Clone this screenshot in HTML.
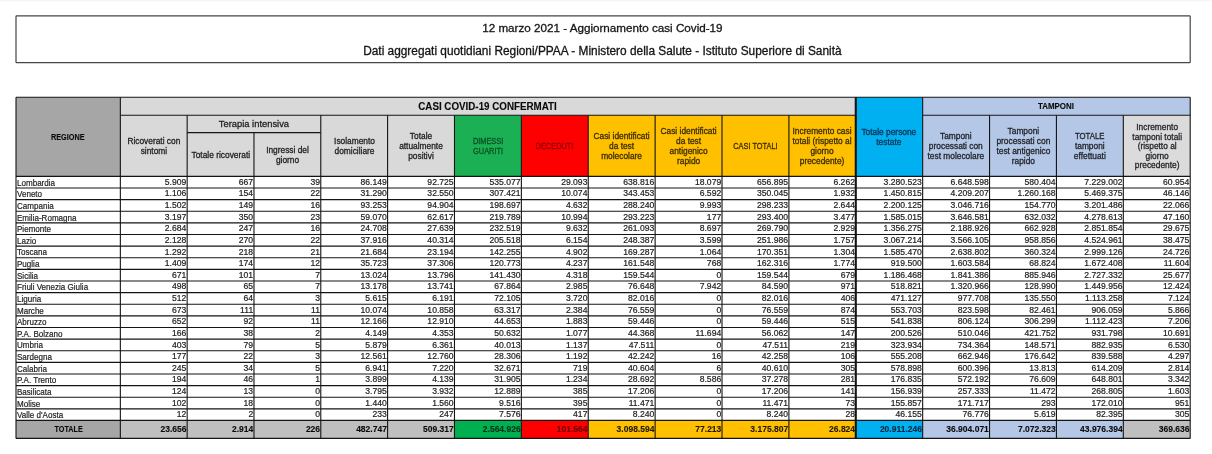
<!DOCTYPE html>
<html lang="it">
<head>
<meta charset="utf-8">
<title>12 marzo 2021 - Aggiornamento casi Covid-19</title>
<style>
html,body{margin:0;padding:0;background:#fff;}
body{width:1212px;height:454px;overflow:hidden;font-family:"Liberation Sans",sans-serif;}
#page{position:relative;width:1212px;height:454px;overflow:hidden;background:#fff;}
#grid{position:absolute;left:0;top:0;}
#text{position:absolute;left:0;top:0;width:1212px;height:454px;will-change:transform;}
.title{position:absolute;left:15.4px;width:1174px;text-align:center;font-size:11.75px;line-height:14px;color:#141414;white-space:nowrap;-webkit-text-stroke:0.3px currentColor;}
.c{position:absolute;box-sizing:border-box;display:flex;white-space:nowrap;color:#1c1c1c;font-size:8.6px;line-height:9.8px;-webkit-text-stroke:0.2px currentColor;}
.c span{display:block;}
.c span i{display:inline-block;font-style:normal;transform:scaleX(.93);}
.h{align-items:center;justify-content:center;text-align:center;color:#1e1e1e;font-size:8.8px;padding-top:2.5px;-webkit-text-stroke:0.3px currentColor;}
.h span{transform:scaleX(.95);transform-origin:50% 50%;}
.u span{transform:scaleX(.84);}
.l5{line-height:9.5px;}
.b{font-weight:bold;color:#0a0a0a;-webkit-text-stroke:0.12px currentColor;}
.reg{font-size:8.6px;}
.reg span{transform:scaleX(.85);}
.grp{font-size:10.4px;padding-top:1.4px;padding-right:2px;}
.grp span{transform:scaleX(.942);}
.tmp{font-size:8.8px;padding-top:1.4px;}
.tmp span{transform:scaleX(.9);}
.ti{font-size:9.85px;padding-top:0.9px;}
.tg{color:#08501f;}
.tr{color:#8f0000;}
.to{color:#3b2c00;}
.tb{color:#0a3355;align-items:flex-start;padding-top:30px;line-height:10.2px;}
.tt{color:#1f2126;}
.d{align-items:flex-end;padding-bottom:0;}
.d span{position:relative;top:-0.3px;}
.l{justify-content:flex-start;padding-left:1.3px;font-size:8.8px;}
.l span{transform:scaleX(.915);transform-origin:0 50%;top:0.6px;}
.r{justify-content:flex-end;padding-right:0.8px;}
.t{align-items:center;font-size:8.5px;padding-top:1px;}
.tc{justify-content:center;font-size:8.5px;}
.tc span{transform:scaleX(.85);}
.tn{justify-content:flex-end;padding-right:0.7px;}
.ttg{color:#04331a;}
.ttr{color:#690000;}
.tto{color:#221900;}
.ttb{color:#062840;}

</style>
</head>
<body>
<div id="page">
<svg id="grid" width="1212" height="454" viewBox="0 0 1212 454">
<rect x="0" y="0" width="1212" height="1" fill="#f6f6f6"/>
<rect x="0" y="1" width="1212" height="1" fill="#fbfbfb"/>
<rect x="16" y="15.95" width="1174.2" height="46.7" rx="0.7" ry="0.7" fill="#ffffff" stroke="#454545" stroke-width="1.2"/>
<rect x="16" y="97.2" width="104.35" height="79.15" fill="#a6a6a6"/>
<rect x="120.35" y="97.2" width="735.43" height="18" fill="#d9d9d9"/>
<rect x="120.35" y="115.2" width="334.12" height="61.15" fill="#d9d9d9"/>
<rect x="454.47" y="115.2" width="66.88" height="61.15" fill="#1cb054"/>
<rect x="521.36" y="115.2" width="66.88" height="61.15" fill="#ff0000"/>
<rect x="588.24" y="115.2" width="267.54" height="61.15" fill="#ffc000"/>
<rect x="855.78" y="97.2" width="66.88" height="79.15" fill="#00b0f0"/>
<rect x="922.66" y="97.2" width="267.54" height="18" fill="#b4c7e7"/>
<rect x="922.66" y="115.2" width="200.65" height="61.15" fill="#b4c7e7"/>
<rect x="1123.32" y="115.2" width="66.88" height="61.15" fill="#dbdbdb"/>
<rect x="16" y="420.45" width="104.35" height="17.95" fill="#a6a6a6"/>
<rect x="120.35" y="420.45" width="334.12" height="17.95" fill="#bfbfbf"/>
<rect x="454.47" y="420.45" width="66.88" height="17.95" fill="#00b050"/>
<rect x="521.36" y="420.45" width="66.88" height="17.95" fill="#ff0000"/>
<rect x="588.24" y="420.45" width="267.54" height="17.95" fill="#ffc000"/>
<rect x="855.78" y="420.45" width="66.88" height="17.95" fill="#00b0f0"/>
<rect x="922.66" y="420.45" width="200.65" height="17.95" fill="#b4c7e7"/>
<rect x="1123.32" y="420.45" width="66.88" height="17.95" fill="#bfbfbf"/>
<line x1="16" y1="97.2" x2="1190.2" y2="97.2" stroke="#141414" stroke-width="1.1"/>
<line x1="120.35" y1="115.2" x2="855.78" y2="115.2" stroke="#141414" stroke-width="1.1"/>
<line x1="922.66" y1="115.2" x2="1190.2" y2="115.2" stroke="#141414" stroke-width="1.1"/>
<line x1="187.16" y1="132.6" x2="320.78" y2="132.6" stroke="#141414" stroke-width="1.1"/>
<line x1="16" y1="176.35" x2="1190.2" y2="176.35" stroke="#141414" stroke-width="1.1"/>
<line x1="16" y1="187.97" x2="1190.2" y2="187.97" stroke="#141414" stroke-width="1.1"/>
<line x1="16" y1="199.6" x2="1190.2" y2="199.6" stroke="#141414" stroke-width="1.1"/>
<line x1="16" y1="211.22" x2="1190.2" y2="211.22" stroke="#141414" stroke-width="1.1"/>
<line x1="16" y1="222.85" x2="1190.2" y2="222.85" stroke="#141414" stroke-width="1.1"/>
<line x1="16" y1="234.47" x2="1190.2" y2="234.47" stroke="#141414" stroke-width="1.1"/>
<line x1="16" y1="246.09" x2="1190.2" y2="246.09" stroke="#141414" stroke-width="1.1"/>
<line x1="16" y1="257.72" x2="1190.2" y2="257.72" stroke="#141414" stroke-width="1.1"/>
<line x1="16" y1="269.34" x2="1190.2" y2="269.34" stroke="#141414" stroke-width="1.1"/>
<line x1="16" y1="280.96" x2="1190.2" y2="280.96" stroke="#141414" stroke-width="1.1"/>
<line x1="16" y1="292.59" x2="1190.2" y2="292.59" stroke="#141414" stroke-width="1.1"/>
<line x1="16" y1="304.21" x2="1190.2" y2="304.21" stroke="#141414" stroke-width="1.1"/>
<line x1="16" y1="315.84" x2="1190.2" y2="315.84" stroke="#141414" stroke-width="1.1"/>
<line x1="16" y1="327.46" x2="1190.2" y2="327.46" stroke="#141414" stroke-width="1.1"/>
<line x1="16" y1="339.08" x2="1190.2" y2="339.08" stroke="#141414" stroke-width="1.1"/>
<line x1="16" y1="350.71" x2="1190.2" y2="350.71" stroke="#141414" stroke-width="1.1"/>
<line x1="16" y1="362.33" x2="1190.2" y2="362.33" stroke="#141414" stroke-width="1.1"/>
<line x1="16" y1="373.95" x2="1190.2" y2="373.95" stroke="#141414" stroke-width="1.1"/>
<line x1="16" y1="385.58" x2="1190.2" y2="385.58" stroke="#141414" stroke-width="1.1"/>
<line x1="16" y1="397.2" x2="1190.2" y2="397.2" stroke="#141414" stroke-width="1.1"/>
<line x1="16" y1="408.83" x2="1190.2" y2="408.83" stroke="#141414" stroke-width="1.1"/>
<line x1="16" y1="420.45" x2="1190.2" y2="420.45" stroke="#141414" stroke-width="1.25"/>
<line x1="16" y1="438.4" x2="1190.2" y2="438.4" stroke="#141414" stroke-width="1.25"/>
<line x1="16" y1="97.2" x2="16" y2="438.4" stroke="#141414" stroke-width="1.1"/>
<line x1="120.35" y1="97.2" x2="120.35" y2="438.4" stroke="#141414" stroke-width="1.1"/>
<line x1="187.16" y1="115.2" x2="187.16" y2="438.4" stroke="#141414" stroke-width="1.1"/>
<line x1="253.97" y1="132.6" x2="253.97" y2="438.4" stroke="#141414" stroke-width="1.1"/>
<line x1="320.78" y1="115.2" x2="320.78" y2="438.4" stroke="#141414" stroke-width="1.1"/>
<line x1="387.59" y1="115.2" x2="387.59" y2="438.4" stroke="#141414" stroke-width="1.1"/>
<line x1="454.47" y1="115.2" x2="454.47" y2="438.4" stroke="#141414" stroke-width="1.1"/>
<line x1="521.36" y1="115.2" x2="521.36" y2="438.4" stroke="#141414" stroke-width="1.1"/>
<line x1="588.24" y1="115.2" x2="588.24" y2="438.4" stroke="#141414" stroke-width="1.1"/>
<line x1="655.13" y1="115.2" x2="655.13" y2="438.4" stroke="#141414" stroke-width="1.1"/>
<line x1="722.01" y1="115.2" x2="722.01" y2="438.4" stroke="#141414" stroke-width="1.1"/>
<line x1="788.9" y1="115.2" x2="788.9" y2="438.4" stroke="#141414" stroke-width="1.1"/>
<line x1="855.78" y1="97.2" x2="855.78" y2="438.4" stroke="#141414" stroke-width="2.1"/>
<line x1="922.66" y1="97.2" x2="922.66" y2="438.4" stroke="#141414" stroke-width="1.1"/>
<line x1="989.55" y1="115.2" x2="989.55" y2="438.4" stroke="#141414" stroke-width="1.1"/>
<line x1="1056.43" y1="115.2" x2="1056.43" y2="438.4" stroke="#141414" stroke-width="1.1"/>
<line x1="1123.32" y1="115.2" x2="1123.32" y2="438.4" stroke="#141414" stroke-width="1.1"/>
<line x1="1190.2" y1="97.2" x2="1190.2" y2="438.4" stroke="#141414" stroke-width="1.1"/>
</svg>
<div id="text">
<div class="title" style="top:21.4px;font-size:11.66px">12 marzo 2021 - Aggiornamento casi Covid-19</div>
<div class="title" style="top:43.9px;font-size:11.86px">Dati aggregati quotidiani Regioni/PPAA - Ministero della Salute - Istituto Superiore di Sanit&agrave;</div>
<div class="c h b reg" style="left:16px;top:97.2px;width:104.35px;height:79.15px;"><span>REGIONE</span></div>
<div class="c h b grp" style="left:120.35px;top:97.2px;width:735.43px;height:18px;"><span>CASI COVID-19 CONFERMATI</span></div>
<div class="c h b tmp" style="left:922.66px;top:97.2px;width:267.54px;height:18px;"><span>TAMPONI</span></div>
<div class="c h ti" style="left:187.16px;top:115.2px;width:133.62px;height:17.4px;"><span>Terapia intensiva</span></div>
<div class="c h" style="left:120.35px;top:115.2px;width:66.81px;height:61.15px;"><span>Ricoverati con<br>sintomi</span></div>
<div class="c h" style="left:187.16px;top:132.6px;width:66.81px;height:43.75px;"><span>Totale ricoverati</span></div>
<div class="c h" style="left:253.97px;top:132.6px;width:66.81px;height:43.75px;"><span>Ingressi del<br>giorno</span></div>
<div class="c h" style="left:320.78px;top:115.2px;width:66.81px;height:61.15px;"><span>Isolamento<br>domiciliare</span></div>
<div class="c h" style="left:387.59px;top:115.2px;width:66.88px;height:61.15px;"><span>Totale<br>attualmente<br>positivi</span></div>
<div class="c h tg u" style="left:454.47px;top:115.2px;width:66.88px;height:61.15px;"><span>DIMESSI<br>GUARITI</span></div>
<div class="c h tr u" style="left:521.36px;top:115.2px;width:66.88px;height:61.15px;"><span>DECEDUTI</span></div>
<div class="c h to" style="left:588.24px;top:115.2px;width:66.88px;height:61.15px;"><span>Casi identificati<br>da test<br>molecolare</span></div>
<div class="c h to" style="left:655.13px;top:115.2px;width:66.88px;height:61.15px;"><span>Casi identificati<br>da test<br>antigenico<br>rapido</span></div>
<div class="c h to u" style="left:722.01px;top:115.2px;width:66.88px;height:61.15px;"><span>CASI TOTALI</span></div>
<div class="c h to" style="left:788.9px;top:115.2px;width:66.88px;height:61.15px;"><span>Incremento casi<br>totali (rispetto al<br>giorno<br>precedente)</span></div>
<div class="c h tb" style="left:855.78px;top:97.2px;width:66.88px;height:79.15px;"><span>Totale persone<br>testate</span></div>
<div class="c h tt" style="left:922.66px;top:115.2px;width:66.88px;height:61.15px;"><span>Tamponi<br>processati con<br>test molecolare</span></div>
<div class="c h tt" style="left:989.55px;top:115.2px;width:66.88px;height:61.15px;"><span>Tamponi<br>processati con<br>test antigenico<br>rapido</span></div>
<div class="c h tt" style="left:1056.43px;top:115.2px;width:66.88px;height:61.15px;"><span><i>TOTALE</i><br>tamponi<br>effettuati</span></div>
<div class="c h tt l5" style="left:1123.32px;top:115.2px;width:66.88px;height:61.15px;"><span>Incremento<br>tamponi totali<br>(rispetto al<br>giorno<br>precedente)</span></div>
<div class="c d l" style="left:16px;top:176.35px;width:104.35px;height:11.62px;"><span>Lombardia</span></div>
<div class="c d r" style="left:120.35px;top:176.35px;width:66.81px;height:11.62px;"><span>5.909</span></div>
<div class="c d r" style="left:187.16px;top:176.35px;width:66.81px;height:11.62px;"><span>667</span></div>
<div class="c d r" style="left:253.97px;top:176.35px;width:66.81px;height:11.62px;"><span>39</span></div>
<div class="c d r" style="left:320.78px;top:176.35px;width:66.81px;height:11.62px;"><span>86.149</span></div>
<div class="c d r" style="left:387.59px;top:176.35px;width:66.88px;height:11.62px;"><span>92.725</span></div>
<div class="c d r" style="left:454.47px;top:176.35px;width:66.88px;height:11.62px;"><span>535.077</span></div>
<div class="c d r" style="left:521.36px;top:176.35px;width:66.88px;height:11.62px;"><span>29.093</span></div>
<div class="c d r" style="left:588.24px;top:176.35px;width:66.88px;height:11.62px;"><span>638.816</span></div>
<div class="c d r" style="left:655.13px;top:176.35px;width:66.88px;height:11.62px;"><span>18.079</span></div>
<div class="c d r" style="left:722.01px;top:176.35px;width:66.88px;height:11.62px;"><span>656.895</span></div>
<div class="c d r" style="left:788.9px;top:176.35px;width:66.88px;height:11.62px;"><span>6.262</span></div>
<div class="c d r" style="left:855.78px;top:176.35px;width:66.88px;height:11.62px;"><span>3.280.523</span></div>
<div class="c d r" style="left:922.66px;top:176.35px;width:66.88px;height:11.62px;"><span>6.648.598</span></div>
<div class="c d r" style="left:989.55px;top:176.35px;width:66.88px;height:11.62px;"><span>580.404</span></div>
<div class="c d r" style="left:1056.43px;top:176.35px;width:66.88px;height:11.62px;"><span>7.229.002</span></div>
<div class="c d r" style="left:1123.32px;top:176.35px;width:66.88px;height:11.62px;"><span>60.954</span></div>
<div class="c d l" style="left:16px;top:187.97px;width:104.35px;height:11.62px;"><span>Veneto</span></div>
<div class="c d r" style="left:120.35px;top:187.97px;width:66.81px;height:11.62px;"><span>1.106</span></div>
<div class="c d r" style="left:187.16px;top:187.97px;width:66.81px;height:11.62px;"><span>154</span></div>
<div class="c d r" style="left:253.97px;top:187.97px;width:66.81px;height:11.62px;"><span>22</span></div>
<div class="c d r" style="left:320.78px;top:187.97px;width:66.81px;height:11.62px;"><span>31.290</span></div>
<div class="c d r" style="left:387.59px;top:187.97px;width:66.88px;height:11.62px;"><span>32.550</span></div>
<div class="c d r" style="left:454.47px;top:187.97px;width:66.88px;height:11.62px;"><span>307.421</span></div>
<div class="c d r" style="left:521.36px;top:187.97px;width:66.88px;height:11.62px;"><span>10.074</span></div>
<div class="c d r" style="left:588.24px;top:187.97px;width:66.88px;height:11.62px;"><span>343.453</span></div>
<div class="c d r" style="left:655.13px;top:187.97px;width:66.88px;height:11.62px;"><span>6.592</span></div>
<div class="c d r" style="left:722.01px;top:187.97px;width:66.88px;height:11.62px;"><span>350.045</span></div>
<div class="c d r" style="left:788.9px;top:187.97px;width:66.88px;height:11.62px;"><span>1.932</span></div>
<div class="c d r" style="left:855.78px;top:187.97px;width:66.88px;height:11.62px;"><span>1.450.815</span></div>
<div class="c d r" style="left:922.66px;top:187.97px;width:66.88px;height:11.62px;"><span>4.209.207</span></div>
<div class="c d r" style="left:989.55px;top:187.97px;width:66.88px;height:11.62px;"><span>1.260.168</span></div>
<div class="c d r" style="left:1056.43px;top:187.97px;width:66.88px;height:11.62px;"><span>5.469.375</span></div>
<div class="c d r" style="left:1123.32px;top:187.97px;width:66.88px;height:11.62px;"><span>46.146</span></div>
<div class="c d l" style="left:16px;top:199.6px;width:104.35px;height:11.62px;"><span>Campania</span></div>
<div class="c d r" style="left:120.35px;top:199.6px;width:66.81px;height:11.62px;"><span>1.502</span></div>
<div class="c d r" style="left:187.16px;top:199.6px;width:66.81px;height:11.62px;"><span>149</span></div>
<div class="c d r" style="left:253.97px;top:199.6px;width:66.81px;height:11.62px;"><span>16</span></div>
<div class="c d r" style="left:320.78px;top:199.6px;width:66.81px;height:11.62px;"><span>93.253</span></div>
<div class="c d r" style="left:387.59px;top:199.6px;width:66.88px;height:11.62px;"><span>94.904</span></div>
<div class="c d r" style="left:454.47px;top:199.6px;width:66.88px;height:11.62px;"><span>198.697</span></div>
<div class="c d r" style="left:521.36px;top:199.6px;width:66.88px;height:11.62px;"><span>4.632</span></div>
<div class="c d r" style="left:588.24px;top:199.6px;width:66.88px;height:11.62px;"><span>288.240</span></div>
<div class="c d r" style="left:655.13px;top:199.6px;width:66.88px;height:11.62px;"><span>9.993</span></div>
<div class="c d r" style="left:722.01px;top:199.6px;width:66.88px;height:11.62px;"><span>298.233</span></div>
<div class="c d r" style="left:788.9px;top:199.6px;width:66.88px;height:11.62px;"><span>2.644</span></div>
<div class="c d r" style="left:855.78px;top:199.6px;width:66.88px;height:11.62px;"><span>2.200.125</span></div>
<div class="c d r" style="left:922.66px;top:199.6px;width:66.88px;height:11.62px;"><span>3.046.716</span></div>
<div class="c d r" style="left:989.55px;top:199.6px;width:66.88px;height:11.62px;"><span>154.770</span></div>
<div class="c d r" style="left:1056.43px;top:199.6px;width:66.88px;height:11.62px;"><span>3.201.486</span></div>
<div class="c d r" style="left:1123.32px;top:199.6px;width:66.88px;height:11.62px;"><span>22.066</span></div>
<div class="c d l" style="left:16px;top:211.22px;width:104.35px;height:11.62px;"><span>Emilia-Romagna</span></div>
<div class="c d r" style="left:120.35px;top:211.22px;width:66.81px;height:11.62px;"><span>3.197</span></div>
<div class="c d r" style="left:187.16px;top:211.22px;width:66.81px;height:11.62px;"><span>350</span></div>
<div class="c d r" style="left:253.97px;top:211.22px;width:66.81px;height:11.62px;"><span>23</span></div>
<div class="c d r" style="left:320.78px;top:211.22px;width:66.81px;height:11.62px;"><span>59.070</span></div>
<div class="c d r" style="left:387.59px;top:211.22px;width:66.88px;height:11.62px;"><span>62.617</span></div>
<div class="c d r" style="left:454.47px;top:211.22px;width:66.88px;height:11.62px;"><span>219.789</span></div>
<div class="c d r" style="left:521.36px;top:211.22px;width:66.88px;height:11.62px;"><span>10.994</span></div>
<div class="c d r" style="left:588.24px;top:211.22px;width:66.88px;height:11.62px;"><span>293.223</span></div>
<div class="c d r" style="left:655.13px;top:211.22px;width:66.88px;height:11.62px;"><span>177</span></div>
<div class="c d r" style="left:722.01px;top:211.22px;width:66.88px;height:11.62px;"><span>293.400</span></div>
<div class="c d r" style="left:788.9px;top:211.22px;width:66.88px;height:11.62px;"><span>3.477</span></div>
<div class="c d r" style="left:855.78px;top:211.22px;width:66.88px;height:11.62px;"><span>1.585.015</span></div>
<div class="c d r" style="left:922.66px;top:211.22px;width:66.88px;height:11.62px;"><span>3.646.581</span></div>
<div class="c d r" style="left:989.55px;top:211.22px;width:66.88px;height:11.62px;"><span>632.032</span></div>
<div class="c d r" style="left:1056.43px;top:211.22px;width:66.88px;height:11.62px;"><span>4.278.613</span></div>
<div class="c d r" style="left:1123.32px;top:211.22px;width:66.88px;height:11.62px;"><span>47.160</span></div>
<div class="c d l" style="left:16px;top:222.85px;width:104.35px;height:11.62px;"><span>Piemonte</span></div>
<div class="c d r" style="left:120.35px;top:222.85px;width:66.81px;height:11.62px;"><span>2.684</span></div>
<div class="c d r" style="left:187.16px;top:222.85px;width:66.81px;height:11.62px;"><span>247</span></div>
<div class="c d r" style="left:253.97px;top:222.85px;width:66.81px;height:11.62px;"><span>16</span></div>
<div class="c d r" style="left:320.78px;top:222.85px;width:66.81px;height:11.62px;"><span>24.708</span></div>
<div class="c d r" style="left:387.59px;top:222.85px;width:66.88px;height:11.62px;"><span>27.639</span></div>
<div class="c d r" style="left:454.47px;top:222.85px;width:66.88px;height:11.62px;"><span>232.519</span></div>
<div class="c d r" style="left:521.36px;top:222.85px;width:66.88px;height:11.62px;"><span>9.632</span></div>
<div class="c d r" style="left:588.24px;top:222.85px;width:66.88px;height:11.62px;"><span>261.093</span></div>
<div class="c d r" style="left:655.13px;top:222.85px;width:66.88px;height:11.62px;"><span>8.697</span></div>
<div class="c d r" style="left:722.01px;top:222.85px;width:66.88px;height:11.62px;"><span>269.790</span></div>
<div class="c d r" style="left:788.9px;top:222.85px;width:66.88px;height:11.62px;"><span>2.929</span></div>
<div class="c d r" style="left:855.78px;top:222.85px;width:66.88px;height:11.62px;"><span>1.356.275</span></div>
<div class="c d r" style="left:922.66px;top:222.85px;width:66.88px;height:11.62px;"><span>2.188.926</span></div>
<div class="c d r" style="left:989.55px;top:222.85px;width:66.88px;height:11.62px;"><span>662.928</span></div>
<div class="c d r" style="left:1056.43px;top:222.85px;width:66.88px;height:11.62px;"><span>2.851.854</span></div>
<div class="c d r" style="left:1123.32px;top:222.85px;width:66.88px;height:11.62px;"><span>29.675</span></div>
<div class="c d l" style="left:16px;top:234.47px;width:104.35px;height:11.62px;"><span>Lazio</span></div>
<div class="c d r" style="left:120.35px;top:234.47px;width:66.81px;height:11.62px;"><span>2.128</span></div>
<div class="c d r" style="left:187.16px;top:234.47px;width:66.81px;height:11.62px;"><span>270</span></div>
<div class="c d r" style="left:253.97px;top:234.47px;width:66.81px;height:11.62px;"><span>22</span></div>
<div class="c d r" style="left:320.78px;top:234.47px;width:66.81px;height:11.62px;"><span>37.916</span></div>
<div class="c d r" style="left:387.59px;top:234.47px;width:66.88px;height:11.62px;"><span>40.314</span></div>
<div class="c d r" style="left:454.47px;top:234.47px;width:66.88px;height:11.62px;"><span>205.518</span></div>
<div class="c d r" style="left:521.36px;top:234.47px;width:66.88px;height:11.62px;"><span>6.154</span></div>
<div class="c d r" style="left:588.24px;top:234.47px;width:66.88px;height:11.62px;"><span>248.387</span></div>
<div class="c d r" style="left:655.13px;top:234.47px;width:66.88px;height:11.62px;"><span>3.599</span></div>
<div class="c d r" style="left:722.01px;top:234.47px;width:66.88px;height:11.62px;"><span>251.986</span></div>
<div class="c d r" style="left:788.9px;top:234.47px;width:66.88px;height:11.62px;"><span>1.757</span></div>
<div class="c d r" style="left:855.78px;top:234.47px;width:66.88px;height:11.62px;"><span>3.067.214</span></div>
<div class="c d r" style="left:922.66px;top:234.47px;width:66.88px;height:11.62px;"><span>3.566.105</span></div>
<div class="c d r" style="left:989.55px;top:234.47px;width:66.88px;height:11.62px;"><span>958.856</span></div>
<div class="c d r" style="left:1056.43px;top:234.47px;width:66.88px;height:11.62px;"><span>4.524.961</span></div>
<div class="c d r" style="left:1123.32px;top:234.47px;width:66.88px;height:11.62px;"><span>38.475</span></div>
<div class="c d l" style="left:16px;top:246.09px;width:104.35px;height:11.62px;"><span>Toscana</span></div>
<div class="c d r" style="left:120.35px;top:246.09px;width:66.81px;height:11.62px;"><span>1.292</span></div>
<div class="c d r" style="left:187.16px;top:246.09px;width:66.81px;height:11.62px;"><span>218</span></div>
<div class="c d r" style="left:253.97px;top:246.09px;width:66.81px;height:11.62px;"><span>21</span></div>
<div class="c d r" style="left:320.78px;top:246.09px;width:66.81px;height:11.62px;"><span>21.684</span></div>
<div class="c d r" style="left:387.59px;top:246.09px;width:66.88px;height:11.62px;"><span>23.194</span></div>
<div class="c d r" style="left:454.47px;top:246.09px;width:66.88px;height:11.62px;"><span>142.255</span></div>
<div class="c d r" style="left:521.36px;top:246.09px;width:66.88px;height:11.62px;"><span>4.902</span></div>
<div class="c d r" style="left:588.24px;top:246.09px;width:66.88px;height:11.62px;"><span>169.287</span></div>
<div class="c d r" style="left:655.13px;top:246.09px;width:66.88px;height:11.62px;"><span>1.064</span></div>
<div class="c d r" style="left:722.01px;top:246.09px;width:66.88px;height:11.62px;"><span>170.351</span></div>
<div class="c d r" style="left:788.9px;top:246.09px;width:66.88px;height:11.62px;"><span>1.304</span></div>
<div class="c d r" style="left:855.78px;top:246.09px;width:66.88px;height:11.62px;"><span>1.585.470</span></div>
<div class="c d r" style="left:922.66px;top:246.09px;width:66.88px;height:11.62px;"><span>2.638.802</span></div>
<div class="c d r" style="left:989.55px;top:246.09px;width:66.88px;height:11.62px;"><span>360.324</span></div>
<div class="c d r" style="left:1056.43px;top:246.09px;width:66.88px;height:11.62px;"><span>2.999.126</span></div>
<div class="c d r" style="left:1123.32px;top:246.09px;width:66.88px;height:11.62px;"><span>24.726</span></div>
<div class="c d l" style="left:16px;top:257.72px;width:104.35px;height:11.62px;"><span>Puglia</span></div>
<div class="c d r" style="left:120.35px;top:257.72px;width:66.81px;height:11.62px;"><span>1.409</span></div>
<div class="c d r" style="left:187.16px;top:257.72px;width:66.81px;height:11.62px;"><span>174</span></div>
<div class="c d r" style="left:253.97px;top:257.72px;width:66.81px;height:11.62px;"><span>12</span></div>
<div class="c d r" style="left:320.78px;top:257.72px;width:66.81px;height:11.62px;"><span>35.723</span></div>
<div class="c d r" style="left:387.59px;top:257.72px;width:66.88px;height:11.62px;"><span>37.306</span></div>
<div class="c d r" style="left:454.47px;top:257.72px;width:66.88px;height:11.62px;"><span>120.773</span></div>
<div class="c d r" style="left:521.36px;top:257.72px;width:66.88px;height:11.62px;"><span>4.237</span></div>
<div class="c d r" style="left:588.24px;top:257.72px;width:66.88px;height:11.62px;"><span>161.548</span></div>
<div class="c d r" style="left:655.13px;top:257.72px;width:66.88px;height:11.62px;"><span>768</span></div>
<div class="c d r" style="left:722.01px;top:257.72px;width:66.88px;height:11.62px;"><span>162.316</span></div>
<div class="c d r" style="left:788.9px;top:257.72px;width:66.88px;height:11.62px;"><span>1.774</span></div>
<div class="c d r" style="left:855.78px;top:257.72px;width:66.88px;height:11.62px;"><span>919.500</span></div>
<div class="c d r" style="left:922.66px;top:257.72px;width:66.88px;height:11.62px;"><span>1.603.584</span></div>
<div class="c d r" style="left:989.55px;top:257.72px;width:66.88px;height:11.62px;"><span>68.824</span></div>
<div class="c d r" style="left:1056.43px;top:257.72px;width:66.88px;height:11.62px;"><span>1.672.408</span></div>
<div class="c d r" style="left:1123.32px;top:257.72px;width:66.88px;height:11.62px;"><span>11.604</span></div>
<div class="c d l" style="left:16px;top:269.34px;width:104.35px;height:11.62px;"><span>Sicilia</span></div>
<div class="c d r" style="left:120.35px;top:269.34px;width:66.81px;height:11.62px;"><span>671</span></div>
<div class="c d r" style="left:187.16px;top:269.34px;width:66.81px;height:11.62px;"><span>101</span></div>
<div class="c d r" style="left:253.97px;top:269.34px;width:66.81px;height:11.62px;"><span>7</span></div>
<div class="c d r" style="left:320.78px;top:269.34px;width:66.81px;height:11.62px;"><span>13.024</span></div>
<div class="c d r" style="left:387.59px;top:269.34px;width:66.88px;height:11.62px;"><span>13.796</span></div>
<div class="c d r" style="left:454.47px;top:269.34px;width:66.88px;height:11.62px;"><span>141.430</span></div>
<div class="c d r" style="left:521.36px;top:269.34px;width:66.88px;height:11.62px;"><span>4.318</span></div>
<div class="c d r" style="left:588.24px;top:269.34px;width:66.88px;height:11.62px;"><span>159.544</span></div>
<div class="c d r" style="left:655.13px;top:269.34px;width:66.88px;height:11.62px;"><span>0</span></div>
<div class="c d r" style="left:722.01px;top:269.34px;width:66.88px;height:11.62px;"><span>159.544</span></div>
<div class="c d r" style="left:788.9px;top:269.34px;width:66.88px;height:11.62px;"><span>679</span></div>
<div class="c d r" style="left:855.78px;top:269.34px;width:66.88px;height:11.62px;"><span>1.186.468</span></div>
<div class="c d r" style="left:922.66px;top:269.34px;width:66.88px;height:11.62px;"><span>1.841.386</span></div>
<div class="c d r" style="left:989.55px;top:269.34px;width:66.88px;height:11.62px;"><span>885.946</span></div>
<div class="c d r" style="left:1056.43px;top:269.34px;width:66.88px;height:11.62px;"><span>2.727.332</span></div>
<div class="c d r" style="left:1123.32px;top:269.34px;width:66.88px;height:11.62px;"><span>25.677</span></div>
<div class="c d l" style="left:16px;top:280.96px;width:104.35px;height:11.62px;"><span>Friuli Venezia Giulia</span></div>
<div class="c d r" style="left:120.35px;top:280.96px;width:66.81px;height:11.62px;"><span>498</span></div>
<div class="c d r" style="left:187.16px;top:280.96px;width:66.81px;height:11.62px;"><span>65</span></div>
<div class="c d r" style="left:253.97px;top:280.96px;width:66.81px;height:11.62px;"><span>7</span></div>
<div class="c d r" style="left:320.78px;top:280.96px;width:66.81px;height:11.62px;"><span>13.178</span></div>
<div class="c d r" style="left:387.59px;top:280.96px;width:66.88px;height:11.62px;"><span>13.741</span></div>
<div class="c d r" style="left:454.47px;top:280.96px;width:66.88px;height:11.62px;"><span>67.864</span></div>
<div class="c d r" style="left:521.36px;top:280.96px;width:66.88px;height:11.62px;"><span>2.985</span></div>
<div class="c d r" style="left:588.24px;top:280.96px;width:66.88px;height:11.62px;"><span>76.648</span></div>
<div class="c d r" style="left:655.13px;top:280.96px;width:66.88px;height:11.62px;"><span>7.942</span></div>
<div class="c d r" style="left:722.01px;top:280.96px;width:66.88px;height:11.62px;"><span>84.590</span></div>
<div class="c d r" style="left:788.9px;top:280.96px;width:66.88px;height:11.62px;"><span>971</span></div>
<div class="c d r" style="left:855.78px;top:280.96px;width:66.88px;height:11.62px;"><span>518.821</span></div>
<div class="c d r" style="left:922.66px;top:280.96px;width:66.88px;height:11.62px;"><span>1.320.966</span></div>
<div class="c d r" style="left:989.55px;top:280.96px;width:66.88px;height:11.62px;"><span>128.990</span></div>
<div class="c d r" style="left:1056.43px;top:280.96px;width:66.88px;height:11.62px;"><span>1.449.956</span></div>
<div class="c d r" style="left:1123.32px;top:280.96px;width:66.88px;height:11.62px;"><span>12.424</span></div>
<div class="c d l" style="left:16px;top:292.59px;width:104.35px;height:11.62px;"><span>Liguria</span></div>
<div class="c d r" style="left:120.35px;top:292.59px;width:66.81px;height:11.62px;"><span>512</span></div>
<div class="c d r" style="left:187.16px;top:292.59px;width:66.81px;height:11.62px;"><span>64</span></div>
<div class="c d r" style="left:253.97px;top:292.59px;width:66.81px;height:11.62px;"><span>3</span></div>
<div class="c d r" style="left:320.78px;top:292.59px;width:66.81px;height:11.62px;"><span>5.615</span></div>
<div class="c d r" style="left:387.59px;top:292.59px;width:66.88px;height:11.62px;"><span>6.191</span></div>
<div class="c d r" style="left:454.47px;top:292.59px;width:66.88px;height:11.62px;"><span>72.105</span></div>
<div class="c d r" style="left:521.36px;top:292.59px;width:66.88px;height:11.62px;"><span>3.720</span></div>
<div class="c d r" style="left:588.24px;top:292.59px;width:66.88px;height:11.62px;"><span>82.016</span></div>
<div class="c d r" style="left:655.13px;top:292.59px;width:66.88px;height:11.62px;"><span>0</span></div>
<div class="c d r" style="left:722.01px;top:292.59px;width:66.88px;height:11.62px;"><span>82.016</span></div>
<div class="c d r" style="left:788.9px;top:292.59px;width:66.88px;height:11.62px;"><span>406</span></div>
<div class="c d r" style="left:855.78px;top:292.59px;width:66.88px;height:11.62px;"><span>471.127</span></div>
<div class="c d r" style="left:922.66px;top:292.59px;width:66.88px;height:11.62px;"><span>977.708</span></div>
<div class="c d r" style="left:989.55px;top:292.59px;width:66.88px;height:11.62px;"><span>135.550</span></div>
<div class="c d r" style="left:1056.43px;top:292.59px;width:66.88px;height:11.62px;"><span>1.113.258</span></div>
<div class="c d r" style="left:1123.32px;top:292.59px;width:66.88px;height:11.62px;"><span>7.124</span></div>
<div class="c d l" style="left:16px;top:304.21px;width:104.35px;height:11.62px;"><span>Marche</span></div>
<div class="c d r" style="left:120.35px;top:304.21px;width:66.81px;height:11.62px;"><span>673</span></div>
<div class="c d r" style="left:187.16px;top:304.21px;width:66.81px;height:11.62px;"><span>111</span></div>
<div class="c d r" style="left:253.97px;top:304.21px;width:66.81px;height:11.62px;"><span>11</span></div>
<div class="c d r" style="left:320.78px;top:304.21px;width:66.81px;height:11.62px;"><span>10.074</span></div>
<div class="c d r" style="left:387.59px;top:304.21px;width:66.88px;height:11.62px;"><span>10.858</span></div>
<div class="c d r" style="left:454.47px;top:304.21px;width:66.88px;height:11.62px;"><span>63.317</span></div>
<div class="c d r" style="left:521.36px;top:304.21px;width:66.88px;height:11.62px;"><span>2.384</span></div>
<div class="c d r" style="left:588.24px;top:304.21px;width:66.88px;height:11.62px;"><span>76.559</span></div>
<div class="c d r" style="left:655.13px;top:304.21px;width:66.88px;height:11.62px;"><span>0</span></div>
<div class="c d r" style="left:722.01px;top:304.21px;width:66.88px;height:11.62px;"><span>76.559</span></div>
<div class="c d r" style="left:788.9px;top:304.21px;width:66.88px;height:11.62px;"><span>874</span></div>
<div class="c d r" style="left:855.78px;top:304.21px;width:66.88px;height:11.62px;"><span>553.703</span></div>
<div class="c d r" style="left:922.66px;top:304.21px;width:66.88px;height:11.62px;"><span>823.598</span></div>
<div class="c d r" style="left:989.55px;top:304.21px;width:66.88px;height:11.62px;"><span>82.461</span></div>
<div class="c d r" style="left:1056.43px;top:304.21px;width:66.88px;height:11.62px;"><span>906.059</span></div>
<div class="c d r" style="left:1123.32px;top:304.21px;width:66.88px;height:11.62px;"><span>5.866</span></div>
<div class="c d l" style="left:16px;top:315.84px;width:104.35px;height:11.62px;"><span>Abruzzo</span></div>
<div class="c d r" style="left:120.35px;top:315.84px;width:66.81px;height:11.62px;"><span>652</span></div>
<div class="c d r" style="left:187.16px;top:315.84px;width:66.81px;height:11.62px;"><span>92</span></div>
<div class="c d r" style="left:253.97px;top:315.84px;width:66.81px;height:11.62px;"><span>11</span></div>
<div class="c d r" style="left:320.78px;top:315.84px;width:66.81px;height:11.62px;"><span>12.166</span></div>
<div class="c d r" style="left:387.59px;top:315.84px;width:66.88px;height:11.62px;"><span>12.910</span></div>
<div class="c d r" style="left:454.47px;top:315.84px;width:66.88px;height:11.62px;"><span>44.653</span></div>
<div class="c d r" style="left:521.36px;top:315.84px;width:66.88px;height:11.62px;"><span>1.883</span></div>
<div class="c d r" style="left:588.24px;top:315.84px;width:66.88px;height:11.62px;"><span>59.446</span></div>
<div class="c d r" style="left:655.13px;top:315.84px;width:66.88px;height:11.62px;"><span>0</span></div>
<div class="c d r" style="left:722.01px;top:315.84px;width:66.88px;height:11.62px;"><span>59.446</span></div>
<div class="c d r" style="left:788.9px;top:315.84px;width:66.88px;height:11.62px;"><span>515</span></div>
<div class="c d r" style="left:855.78px;top:315.84px;width:66.88px;height:11.62px;"><span>541.838</span></div>
<div class="c d r" style="left:922.66px;top:315.84px;width:66.88px;height:11.62px;"><span>806.124</span></div>
<div class="c d r" style="left:989.55px;top:315.84px;width:66.88px;height:11.62px;"><span>306.299</span></div>
<div class="c d r" style="left:1056.43px;top:315.84px;width:66.88px;height:11.62px;"><span>1.112.423</span></div>
<div class="c d r" style="left:1123.32px;top:315.84px;width:66.88px;height:11.62px;"><span>7.206</span></div>
<div class="c d l" style="left:16px;top:327.46px;width:104.35px;height:11.62px;"><span>P.A. Bolzano</span></div>
<div class="c d r" style="left:120.35px;top:327.46px;width:66.81px;height:11.62px;"><span>166</span></div>
<div class="c d r" style="left:187.16px;top:327.46px;width:66.81px;height:11.62px;"><span>38</span></div>
<div class="c d r" style="left:253.97px;top:327.46px;width:66.81px;height:11.62px;"><span>2</span></div>
<div class="c d r" style="left:320.78px;top:327.46px;width:66.81px;height:11.62px;"><span>4.149</span></div>
<div class="c d r" style="left:387.59px;top:327.46px;width:66.88px;height:11.62px;"><span>4.353</span></div>
<div class="c d r" style="left:454.47px;top:327.46px;width:66.88px;height:11.62px;"><span>50.632</span></div>
<div class="c d r" style="left:521.36px;top:327.46px;width:66.88px;height:11.62px;"><span>1.077</span></div>
<div class="c d r" style="left:588.24px;top:327.46px;width:66.88px;height:11.62px;"><span>44.368</span></div>
<div class="c d r" style="left:655.13px;top:327.46px;width:66.88px;height:11.62px;"><span>11.694</span></div>
<div class="c d r" style="left:722.01px;top:327.46px;width:66.88px;height:11.62px;"><span>56.062</span></div>
<div class="c d r" style="left:788.9px;top:327.46px;width:66.88px;height:11.62px;"><span>147</span></div>
<div class="c d r" style="left:855.78px;top:327.46px;width:66.88px;height:11.62px;"><span>200.526</span></div>
<div class="c d r" style="left:922.66px;top:327.46px;width:66.88px;height:11.62px;"><span>510.046</span></div>
<div class="c d r" style="left:989.55px;top:327.46px;width:66.88px;height:11.62px;"><span>421.752</span></div>
<div class="c d r" style="left:1056.43px;top:327.46px;width:66.88px;height:11.62px;"><span>931.798</span></div>
<div class="c d r" style="left:1123.32px;top:327.46px;width:66.88px;height:11.62px;"><span>10.691</span></div>
<div class="c d l" style="left:16px;top:339.08px;width:104.35px;height:11.62px;"><span>Umbria</span></div>
<div class="c d r" style="left:120.35px;top:339.08px;width:66.81px;height:11.62px;"><span>403</span></div>
<div class="c d r" style="left:187.16px;top:339.08px;width:66.81px;height:11.62px;"><span>79</span></div>
<div class="c d r" style="left:253.97px;top:339.08px;width:66.81px;height:11.62px;"><span>5</span></div>
<div class="c d r" style="left:320.78px;top:339.08px;width:66.81px;height:11.62px;"><span>5.879</span></div>
<div class="c d r" style="left:387.59px;top:339.08px;width:66.88px;height:11.62px;"><span>6.361</span></div>
<div class="c d r" style="left:454.47px;top:339.08px;width:66.88px;height:11.62px;"><span>40.013</span></div>
<div class="c d r" style="left:521.36px;top:339.08px;width:66.88px;height:11.62px;"><span>1.137</span></div>
<div class="c d r" style="left:588.24px;top:339.08px;width:66.88px;height:11.62px;"><span>47.511</span></div>
<div class="c d r" style="left:655.13px;top:339.08px;width:66.88px;height:11.62px;"><span>0</span></div>
<div class="c d r" style="left:722.01px;top:339.08px;width:66.88px;height:11.62px;"><span>47.511</span></div>
<div class="c d r" style="left:788.9px;top:339.08px;width:66.88px;height:11.62px;"><span>219</span></div>
<div class="c d r" style="left:855.78px;top:339.08px;width:66.88px;height:11.62px;"><span>323.934</span></div>
<div class="c d r" style="left:922.66px;top:339.08px;width:66.88px;height:11.62px;"><span>734.364</span></div>
<div class="c d r" style="left:989.55px;top:339.08px;width:66.88px;height:11.62px;"><span>148.571</span></div>
<div class="c d r" style="left:1056.43px;top:339.08px;width:66.88px;height:11.62px;"><span>882.935</span></div>
<div class="c d r" style="left:1123.32px;top:339.08px;width:66.88px;height:11.62px;"><span>6.530</span></div>
<div class="c d l" style="left:16px;top:350.71px;width:104.35px;height:11.62px;"><span>Sardegna</span></div>
<div class="c d r" style="left:120.35px;top:350.71px;width:66.81px;height:11.62px;"><span>177</span></div>
<div class="c d r" style="left:187.16px;top:350.71px;width:66.81px;height:11.62px;"><span>22</span></div>
<div class="c d r" style="left:253.97px;top:350.71px;width:66.81px;height:11.62px;"><span>3</span></div>
<div class="c d r" style="left:320.78px;top:350.71px;width:66.81px;height:11.62px;"><span>12.561</span></div>
<div class="c d r" style="left:387.59px;top:350.71px;width:66.88px;height:11.62px;"><span>12.760</span></div>
<div class="c d r" style="left:454.47px;top:350.71px;width:66.88px;height:11.62px;"><span>28.306</span></div>
<div class="c d r" style="left:521.36px;top:350.71px;width:66.88px;height:11.62px;"><span>1.192</span></div>
<div class="c d r" style="left:588.24px;top:350.71px;width:66.88px;height:11.62px;"><span>42.242</span></div>
<div class="c d r" style="left:655.13px;top:350.71px;width:66.88px;height:11.62px;"><span>16</span></div>
<div class="c d r" style="left:722.01px;top:350.71px;width:66.88px;height:11.62px;"><span>42.258</span></div>
<div class="c d r" style="left:788.9px;top:350.71px;width:66.88px;height:11.62px;"><span>106</span></div>
<div class="c d r" style="left:855.78px;top:350.71px;width:66.88px;height:11.62px;"><span>555.208</span></div>
<div class="c d r" style="left:922.66px;top:350.71px;width:66.88px;height:11.62px;"><span>662.946</span></div>
<div class="c d r" style="left:989.55px;top:350.71px;width:66.88px;height:11.62px;"><span>176.642</span></div>
<div class="c d r" style="left:1056.43px;top:350.71px;width:66.88px;height:11.62px;"><span>839.588</span></div>
<div class="c d r" style="left:1123.32px;top:350.71px;width:66.88px;height:11.62px;"><span>4.297</span></div>
<div class="c d l" style="left:16px;top:362.33px;width:104.35px;height:11.62px;"><span>Calabria</span></div>
<div class="c d r" style="left:120.35px;top:362.33px;width:66.81px;height:11.62px;"><span>245</span></div>
<div class="c d r" style="left:187.16px;top:362.33px;width:66.81px;height:11.62px;"><span>34</span></div>
<div class="c d r" style="left:253.97px;top:362.33px;width:66.81px;height:11.62px;"><span>5</span></div>
<div class="c d r" style="left:320.78px;top:362.33px;width:66.81px;height:11.62px;"><span>6.941</span></div>
<div class="c d r" style="left:387.59px;top:362.33px;width:66.88px;height:11.62px;"><span>7.220</span></div>
<div class="c d r" style="left:454.47px;top:362.33px;width:66.88px;height:11.62px;"><span>32.671</span></div>
<div class="c d r" style="left:521.36px;top:362.33px;width:66.88px;height:11.62px;"><span>719</span></div>
<div class="c d r" style="left:588.24px;top:362.33px;width:66.88px;height:11.62px;"><span>40.604</span></div>
<div class="c d r" style="left:655.13px;top:362.33px;width:66.88px;height:11.62px;"><span>6</span></div>
<div class="c d r" style="left:722.01px;top:362.33px;width:66.88px;height:11.62px;"><span>40.610</span></div>
<div class="c d r" style="left:788.9px;top:362.33px;width:66.88px;height:11.62px;"><span>305</span></div>
<div class="c d r" style="left:855.78px;top:362.33px;width:66.88px;height:11.62px;"><span>578.898</span></div>
<div class="c d r" style="left:922.66px;top:362.33px;width:66.88px;height:11.62px;"><span>600.396</span></div>
<div class="c d r" style="left:989.55px;top:362.33px;width:66.88px;height:11.62px;"><span>13.813</span></div>
<div class="c d r" style="left:1056.43px;top:362.33px;width:66.88px;height:11.62px;"><span>614.209</span></div>
<div class="c d r" style="left:1123.32px;top:362.33px;width:66.88px;height:11.62px;"><span>2.814</span></div>
<div class="c d l" style="left:16px;top:373.95px;width:104.35px;height:11.62px;"><span>P.A. Trento</span></div>
<div class="c d r" style="left:120.35px;top:373.95px;width:66.81px;height:11.62px;"><span>194</span></div>
<div class="c d r" style="left:187.16px;top:373.95px;width:66.81px;height:11.62px;"><span>46</span></div>
<div class="c d r" style="left:253.97px;top:373.95px;width:66.81px;height:11.62px;"><span>1</span></div>
<div class="c d r" style="left:320.78px;top:373.95px;width:66.81px;height:11.62px;"><span>3.899</span></div>
<div class="c d r" style="left:387.59px;top:373.95px;width:66.88px;height:11.62px;"><span>4.139</span></div>
<div class="c d r" style="left:454.47px;top:373.95px;width:66.88px;height:11.62px;"><span>31.905</span></div>
<div class="c d r" style="left:521.36px;top:373.95px;width:66.88px;height:11.62px;"><span>1.234</span></div>
<div class="c d r" style="left:588.24px;top:373.95px;width:66.88px;height:11.62px;"><span>28.692</span></div>
<div class="c d r" style="left:655.13px;top:373.95px;width:66.88px;height:11.62px;"><span>8.586</span></div>
<div class="c d r" style="left:722.01px;top:373.95px;width:66.88px;height:11.62px;"><span>37.278</span></div>
<div class="c d r" style="left:788.9px;top:373.95px;width:66.88px;height:11.62px;"><span>281</span></div>
<div class="c d r" style="left:855.78px;top:373.95px;width:66.88px;height:11.62px;"><span>176.835</span></div>
<div class="c d r" style="left:922.66px;top:373.95px;width:66.88px;height:11.62px;"><span>572.192</span></div>
<div class="c d r" style="left:989.55px;top:373.95px;width:66.88px;height:11.62px;"><span>76.609</span></div>
<div class="c d r" style="left:1056.43px;top:373.95px;width:66.88px;height:11.62px;"><span>648.801</span></div>
<div class="c d r" style="left:1123.32px;top:373.95px;width:66.88px;height:11.62px;"><span>3.342</span></div>
<div class="c d l" style="left:16px;top:385.58px;width:104.35px;height:11.62px;"><span>Basilicata</span></div>
<div class="c d r" style="left:120.35px;top:385.58px;width:66.81px;height:11.62px;"><span>124</span></div>
<div class="c d r" style="left:187.16px;top:385.58px;width:66.81px;height:11.62px;"><span>13</span></div>
<div class="c d r" style="left:253.97px;top:385.58px;width:66.81px;height:11.62px;"><span>0</span></div>
<div class="c d r" style="left:320.78px;top:385.58px;width:66.81px;height:11.62px;"><span>3.795</span></div>
<div class="c d r" style="left:387.59px;top:385.58px;width:66.88px;height:11.62px;"><span>3.932</span></div>
<div class="c d r" style="left:454.47px;top:385.58px;width:66.88px;height:11.62px;"><span>12.889</span></div>
<div class="c d r" style="left:521.36px;top:385.58px;width:66.88px;height:11.62px;"><span>385</span></div>
<div class="c d r" style="left:588.24px;top:385.58px;width:66.88px;height:11.62px;"><span>17.206</span></div>
<div class="c d r" style="left:655.13px;top:385.58px;width:66.88px;height:11.62px;"><span>0</span></div>
<div class="c d r" style="left:722.01px;top:385.58px;width:66.88px;height:11.62px;"><span>17.206</span></div>
<div class="c d r" style="left:788.9px;top:385.58px;width:66.88px;height:11.62px;"><span>141</span></div>
<div class="c d r" style="left:855.78px;top:385.58px;width:66.88px;height:11.62px;"><span>156.939</span></div>
<div class="c d r" style="left:922.66px;top:385.58px;width:66.88px;height:11.62px;"><span>257.333</span></div>
<div class="c d r" style="left:989.55px;top:385.58px;width:66.88px;height:11.62px;"><span>11.472</span></div>
<div class="c d r" style="left:1056.43px;top:385.58px;width:66.88px;height:11.62px;"><span>268.805</span></div>
<div class="c d r" style="left:1123.32px;top:385.58px;width:66.88px;height:11.62px;"><span>1.603</span></div>
<div class="c d l" style="left:16px;top:397.2px;width:104.35px;height:11.62px;"><span>Molise</span></div>
<div class="c d r" style="left:120.35px;top:397.2px;width:66.81px;height:11.62px;"><span>102</span></div>
<div class="c d r" style="left:187.16px;top:397.2px;width:66.81px;height:11.62px;"><span>18</span></div>
<div class="c d r" style="left:253.97px;top:397.2px;width:66.81px;height:11.62px;"><span>0</span></div>
<div class="c d r" style="left:320.78px;top:397.2px;width:66.81px;height:11.62px;"><span>1.440</span></div>
<div class="c d r" style="left:387.59px;top:397.2px;width:66.88px;height:11.62px;"><span>1.560</span></div>
<div class="c d r" style="left:454.47px;top:397.2px;width:66.88px;height:11.62px;"><span>9.516</span></div>
<div class="c d r" style="left:521.36px;top:397.2px;width:66.88px;height:11.62px;"><span>395</span></div>
<div class="c d r" style="left:588.24px;top:397.2px;width:66.88px;height:11.62px;"><span>11.471</span></div>
<div class="c d r" style="left:655.13px;top:397.2px;width:66.88px;height:11.62px;"><span>0</span></div>
<div class="c d r" style="left:722.01px;top:397.2px;width:66.88px;height:11.62px;"><span>11.471</span></div>
<div class="c d r" style="left:788.9px;top:397.2px;width:66.88px;height:11.62px;"><span>73</span></div>
<div class="c d r" style="left:855.78px;top:397.2px;width:66.88px;height:11.62px;"><span>155.857</span></div>
<div class="c d r" style="left:922.66px;top:397.2px;width:66.88px;height:11.62px;"><span>171.717</span></div>
<div class="c d r" style="left:989.55px;top:397.2px;width:66.88px;height:11.62px;"><span>293</span></div>
<div class="c d r" style="left:1056.43px;top:397.2px;width:66.88px;height:11.62px;"><span>172.010</span></div>
<div class="c d r" style="left:1123.32px;top:397.2px;width:66.88px;height:11.62px;"><span>951</span></div>
<div class="c d l" style="left:16px;top:408.83px;width:104.35px;height:11.62px;"><span>Valle d'Aosta</span></div>
<div class="c d r" style="left:120.35px;top:408.83px;width:66.81px;height:11.62px;"><span>12</span></div>
<div class="c d r" style="left:187.16px;top:408.83px;width:66.81px;height:11.62px;"><span>2</span></div>
<div class="c d r" style="left:253.97px;top:408.83px;width:66.81px;height:11.62px;"><span>0</span></div>
<div class="c d r" style="left:320.78px;top:408.83px;width:66.81px;height:11.62px;"><span>233</span></div>
<div class="c d r" style="left:387.59px;top:408.83px;width:66.88px;height:11.62px;"><span>247</span></div>
<div class="c d r" style="left:454.47px;top:408.83px;width:66.88px;height:11.62px;"><span>7.576</span></div>
<div class="c d r" style="left:521.36px;top:408.83px;width:66.88px;height:11.62px;"><span>417</span></div>
<div class="c d r" style="left:588.24px;top:408.83px;width:66.88px;height:11.62px;"><span>8.240</span></div>
<div class="c d r" style="left:655.13px;top:408.83px;width:66.88px;height:11.62px;"><span>0</span></div>
<div class="c d r" style="left:722.01px;top:408.83px;width:66.88px;height:11.62px;"><span>8.240</span></div>
<div class="c d r" style="left:788.9px;top:408.83px;width:66.88px;height:11.62px;"><span>28</span></div>
<div class="c d r" style="left:855.78px;top:408.83px;width:66.88px;height:11.62px;"><span>46.155</span></div>
<div class="c d r" style="left:922.66px;top:408.83px;width:66.88px;height:11.62px;"><span>76.776</span></div>
<div class="c d r" style="left:989.55px;top:408.83px;width:66.88px;height:11.62px;"><span>5.619</span></div>
<div class="c d r" style="left:1056.43px;top:408.83px;width:66.88px;height:11.62px;"><span>82.395</span></div>
<div class="c d r" style="left:1123.32px;top:408.83px;width:66.88px;height:11.62px;"><span>305</span></div>
<div class="c t b tc" style="left:16px;top:420.45px;width:104.35px;height:17.95px;"><span>TOTALE</span></div>
<div class="c t b tn " style="left:120.35px;top:420.45px;width:66.81px;height:17.95px;"><span>23.656</span></div>
<div class="c t b tn " style="left:187.16px;top:420.45px;width:66.81px;height:17.95px;"><span>2.914</span></div>
<div class="c t b tn " style="left:253.97px;top:420.45px;width:66.81px;height:17.95px;"><span>226</span></div>
<div class="c t b tn " style="left:320.78px;top:420.45px;width:66.81px;height:17.95px;"><span>482.747</span></div>
<div class="c t b tn " style="left:387.59px;top:420.45px;width:66.88px;height:17.95px;"><span>509.317</span></div>
<div class="c t b tn ttg" style="left:454.47px;top:420.45px;width:66.88px;height:17.95px;"><span>2.564.926</span></div>
<div class="c t b tn ttr" style="left:521.36px;top:420.45px;width:66.88px;height:17.95px;"><span>101.564</span></div>
<div class="c t b tn tto" style="left:588.24px;top:420.45px;width:66.88px;height:17.95px;"><span>3.098.594</span></div>
<div class="c t b tn tto" style="left:655.13px;top:420.45px;width:66.88px;height:17.95px;"><span>77.213</span></div>
<div class="c t b tn tto" style="left:722.01px;top:420.45px;width:66.88px;height:17.95px;"><span>3.175.807</span></div>
<div class="c t b tn tto" style="left:788.9px;top:420.45px;width:66.88px;height:17.95px;"><span>26.824</span></div>
<div class="c t b tn ttb" style="left:855.78px;top:420.45px;width:66.88px;height:17.95px;"><span>20.911.246</span></div>
<div class="c t b tn " style="left:922.66px;top:420.45px;width:66.88px;height:17.95px;"><span>36.904.071</span></div>
<div class="c t b tn " style="left:989.55px;top:420.45px;width:66.88px;height:17.95px;"><span>7.072.323</span></div>
<div class="c t b tn " style="left:1056.43px;top:420.45px;width:66.88px;height:17.95px;"><span>43.976.394</span></div>
<div class="c t b tn " style="left:1123.32px;top:420.45px;width:66.88px;height:17.95px;"><span>369.636</span></div>
</div>
</div>
</body>
</html>
